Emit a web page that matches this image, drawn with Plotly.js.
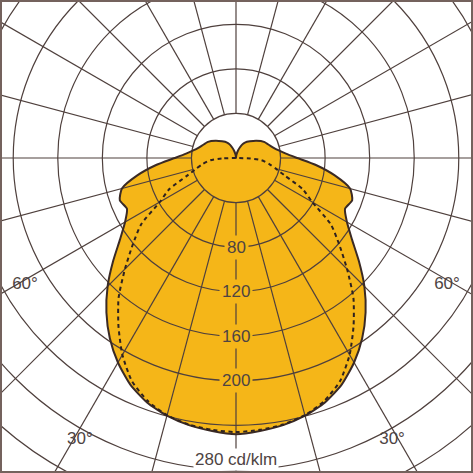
<!DOCTYPE html>
<html>
<head>
<meta charset="utf-8">
<script src="https://cdn.plot.ly/plotly-3.0.1.min.js"></script>
<style>
  html, body { margin: 0; padding: 0; background: #fff; }
  #frame { position: relative; width: 473px; height: 473px; overflow: hidden; }
  #plot { position: absolute; left: -165px; top: -243px; width: 802px; height: 802px; }
  #border { position: absolute; left: 0; top: 0; width: 473px; height: 473px; box-sizing: border-box;
            border: 2px solid #74625d; pointer-events: none; }
</style>
</head>
<body>
<div id="frame"><div id="plot"></div><div id="border"></div></div>
<script>
// light distribution, cd/klm, gamma angle from nadir (curve is symmetric)
var angles  = [0, 5, 10, 15, 20, 25, 30, 35, 40, 45, 50, 55, 60, 65, 70, 75, 80, 85, 90,
               95, 100, 105, 110, 120, 130, 140, 150, 155, 160, 165, 170, 175, 180]
var solidCd = [248, 246, 243.5, 239.5, 233.5, 224.5, 212, 197.5, 181, 163, 144, 127, 115, 108, 111, 106, 90, 72, 55,
               45, 39, 35, 32.5, 29, 24, 19.5, 16, 13.5, 10, 7, 4, 2, 0]

var dashAngles = [0, 5, 10, 15, 20, 25, 30, 35, 40, 45, 50, 55, 60, 65, 70, 75, 80, 85, 88, 90]
var dashCd     = [246, 245, 243, 239, 232, 221, 204, 184, 164, 141, 121, 104, 79, 66, 47, 37, 30, 23, 13, 0]

var rings = [40, 80, 120, 160, 200, 240, 280, 320, 360]
var ringLabels = [80, 120, 160, 200]
var unitText = '280 cd/klm'
var angleLabels = [30, 60]

var ORANGE = '#f5b618'
var GRID = '#4f403d'
var INK = '#4e4443'
var FONT = 'Liberation Sans, Arial, sans-serif'
var rMax = 360
var rHole = 40

// both halves of a curve: left side gets negative angles
function mirrored(th, r) {
    var t = [], v = []
    for (var i = th.length - 1; i > 0; i--) { t.push(-th[i]); v.push(r[i]) }
    for (var j = 0; j < th.length; j++) { t.push(th[j]); v.push(r[j]) }
    return {theta: t, r: v}
}

var solid = mirrored(angles, solidCd)
var dashed = mirrored(dashAngles, dashCd)

var trace_fill = {
    type: 'scatterpolar', subplot: 'polar',
    r: solid.r, theta: solid.theta,
    mode: 'lines', fill: 'toself', fillcolor: ORANGE,
    line: {width: 0, shape: 'spline', smoothing: 0.6},
    hoverinfo: 'skip'
}

var labelR = {30: 289, 60: 221}
var lab_r = [], lab_t = [], lab_txt = []
angleLabels.forEach(function (a) {
    lab_r.push(labelR[a], labelR[a])
    lab_t.push(a - 1, -(a - 1))
    lab_txt.push(a + '°', a + '°')
})
var trace_labels = {
    type: 'scatterpolar', subplot: 'polar2',
    r: lab_r, theta: lab_t, text: lab_txt,
    mode: 'text', textfont: {family: FONT, size: 17, color: INK},
    hoverinfo: 'skip'
}

var trace_outline = {
    type: 'scatterpolar', subplot: 'polar3',
    r: solid.r, theta: solid.theta, mode: 'lines',
    line: {color: '#3a2a25', width: 2, shape: 'spline', smoothing: 0.6},
    hoverinfo: 'skip'
}

var trace_dashed = {
    type: 'scatterpolar', subplot: 'polar3',
    r: dashed.r, theta: dashed.theta, mode: 'lines',
    line: {color: '#2e2220', width: 2, dash: '4px,3.5px', shape: 'spline', smoothing: 0.6},
    hoverinfo: 'skip'
}

function basePolar() {
    return {
        domain: {x: [0, 1], y: [0, 1]},
        bgcolor: 'rgba(0,0,0,0)',
        angularaxis: {rotation: -90, direction: 'counterclockwise', showgrid: false,
                      showline: false, showticklabels: false, ticks: ''},
        radialaxis: {range: [0, rMax], showgrid: false, showline: false,
                     showticklabels: false, ticks: ''}
    }
}

var polar1 = basePolar()
polar1.bgcolor = 'white'

// grid subplot: hole at 40 cd keeps the same radial scale
var polar2 = basePolar()
polar2.hole = rHole / rMax
polar2.radialaxis.range = [rHole, rMax]
polar2.radialaxis.showgrid = true
polar2.radialaxis.tickvals = rings
polar2.radialaxis.gridcolor = GRID
polar2.radialaxis.gridwidth = 1.2
polar2.angularaxis.showgrid = true
polar2.angularaxis.tickmode = 'linear'
polar2.angularaxis.tick0 = 0
polar2.angularaxis.dtick = 15
polar2.angularaxis.gridcolor = GRID
polar2.angularaxis.gridwidth = 1.2
polar2.angularaxis.showline = true
polar2.angularaxis.linecolor = GRID
polar2.angularaxis.linewidth = 1.2

var polar3 = basePolar()

var annotations = ringLabels.map(function (v) {
    return {xref: 'paper', yref: 'paper', x: 0.5, y: 0.5 - v / (2 * rMax),
            xanchor: 'center', yanchor: 'middle',
            text: String(v), showarrow: false, bgcolor: ORANGE, borderpad: 2,
            font: {family: FONT, size: 17, color: INK}}
})
annotations.push({xref: 'paper', yref: 'paper', x: 0.5, y: 0.5 - 271 / (2 * rMax),
                  xanchor: 'center', yanchor: 'middle',
                  text: unitText, showarrow: false, bgcolor: 'white', borderpad: 1,
                  font: {family: FONT, size: 17, color: INK}})

var layout = {
    width: 802, height: 802,
    margin: {l: 0, r: 0, t: 0, b: 0},
    paper_bgcolor: 'white',
    showlegend: false,
    polar: polar1, polar2: polar2, polar3: polar3,
    annotations: annotations
}

Plotly.newPlot('plot', [trace_fill, trace_labels, trace_outline, trace_dashed], layout,
               {displayModeBar: false, staticPlot: true})
</script>
</body>
</html>
